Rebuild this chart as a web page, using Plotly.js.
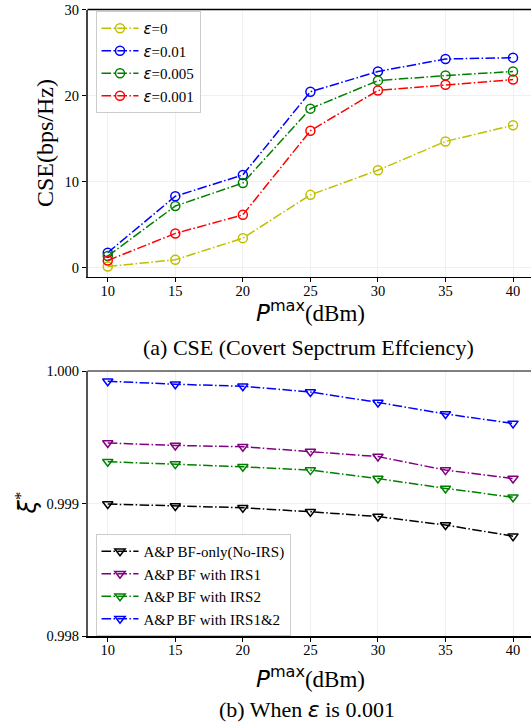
<!DOCTYPE html>
<html>
<head>
<meta charset="utf-8">
<script src="https://cdn.plot.ly/plotly-3.0.1.min.js"></script>
<style>html,body{margin:0;padding:0;background:#fff;}#chart{width:531px;height:724px;}</style>
</head>
<body>
<div id="chart"></div>
<script>
// ---------- data ----------
const pmax = [10, 15, 20, 25, 30, 35, 40];
const xTicks = [10, 15, 20, 25, 30, 35, 40];

// (a) CSE (bps/Hz)
const cseEps0     = [0.16, 0.94, 3.45, 8.48, 11.34, 14.68, 16.56];
const cseEps0010  = [1.77, 8.32, 10.79, 20.45, 22.80, 24.25, 24.41];
const cseEps0005  = [1.37, 7.18, 9.85, 18.49, 21.74, 22.33, 22.80];
const cseEps0001  = [0.86, 4.00, 6.16, 15.93, 20.60, 21.27, 21.86];
const cseLabels   = ['=0', '=0.01', '=0.005', '=0.001'];
const cseTicks    = [0, 10, 20, 30];

// (b) xi* when eps = 0.001
const xiBFonly  = [0.998997, 0.998982, 0.998969, 0.998939, 0.998903, 0.998839, 0.998755];
const xiIRS1    = [0.999457, 0.999439, 0.999429, 0.999393, 0.999355, 0.999253, 0.999189];
const xiIRS2    = [0.999316, 0.999298, 0.999278, 0.999253, 0.999189, 0.999115, 0.999048];
const xiIRS12   = [0.999923, 0.999900, 0.999885, 0.999842, 0.999763, 0.999676, 0.999605];
const xiLabels  = ['A&amp;P BF-only(No-IRS)', 'A&amp;P BF with IRS1', 'A&amp;P BF with IRS2', 'A&amp;P BF with IRS1&amp;2'];
const xiTicks   = [0.998, 0.999, 1.000];

// ---------- styles ----------
const W = 531, H = 724;
const serif = 'Liberation Serif, Times New Roman, serif';
const dash = '9.6px,2.4px,1.5px,2.4px';
const eps = '<i><span style="font-family:DejaVu Sans">ε</span></i>';
const pmaxTitle = '<i><span style="font-family:DejaVu Sans">P</span></i><sup><span style="font-family:DejaVu Sans">max</span></sup>(dBm)';

function px(x) { return x / W; }
function py(y) { return 1 - y / H; }

function cseTrace(y, color, label) {
  return {
    x: pmax, y: y, type: 'scatter', mode: 'lines+markers',
    name: eps + label, xaxis: 'x', yaxis: 'y', legend: 'legend',
    line: {color: color, width: 1.5, dash: dash},
    marker: {symbol: 'circle-open', size: 9, color: color, line: {color: color, width: 1.5}}
  };
}
function xiTrace(y, color, label) {
  return {
    x: pmax, y: y, type: 'scatter', mode: 'lines+markers',
    name: label, xaxis: 'x2', yaxis: 'y2', legend: 'legend2',
    line: {color: color, width: 1.5, dash: dash},
    marker: {symbol: 'triangle-down-open', size: 9, color: color, line: {color: color, width: 1.5}}
  };
}

const data = [
  cseTrace(cseEps0,    '#bfbf00', cseLabels[0]),
  cseTrace(cseEps0010, '#0000ff', cseLabels[1]),
  cseTrace(cseEps0005, '#008000', cseLabels[2]),
  cseTrace(cseEps0001, '#ff0000', cseLabels[3]),
  xiTrace(xiBFonly, '#000000', xiLabels[0]),
  xiTrace(xiIRS1,   '#800080', xiLabels[1]),
  xiTrace(xiIRS2,   '#008000', xiLabels[2]),
  xiTrace(xiIRS12,  '#0000ff', xiLabels[3])
];

const tickFont = {family: serif, size: 14.5, color: '#000'};
const xRange = [8.5, 41.33];
const xDomain = [px(87.5), 1];

function xAxis(anchor) {
  return {
    domain: xDomain, range: xRange, anchor: anchor,
    tickmode: 'array', tickvals: xTicks, ticktext: xTicks.map(String),
    ticks: 'outside', ticklen: 4, tickwidth: 1, tickcolor: '#000',
    ticklabelposition: 'outside', ticklabelstandoff: -4,
    showline: true, linecolor: '#000', linewidth: 1.3, mirror: false,
    showgrid: true, gridcolor: '#ececec', gridwidth: 0.8, zeroline: false,
    tickfont: tickFont, automargin: false, fixedrange: true
  };
}

function legendBox(topPx) {
  return {
    x: px(95.5), y: py(topPx), xanchor: 'left', yanchor: 'top',
    bgcolor: 'rgba(255,255,255,0.85)', bordercolor: '#cccccc', borderwidth: 1,
    font: {family: serif, size: 15, color: '#000'},
    tracegroupgap: 0, itemwidth: 37
  };
}

const layout = {
  width: W, height: H,
  margin: {l: 0, r: 0, t: 0, b: 0, pad: 0},
  paper_bgcolor: '#fff', plot_bgcolor: '#fff',
  showlegend: true,
  xaxis: xAxis('y'),
  xaxis2: xAxis('y2'),
  yaxis: {
    domain: [py(277), py(9.5)], range: [-1.06, 30], anchor: 'x',
    tickmode: 'array', tickvals: cseTicks, ticktext: cseTicks.map(String),
    ticks: 'outside', ticklen: 4, tickwidth: 1, tickcolor: '#000',
    showline: true, linecolor: '#444', linewidth: 1.5,
    showgrid: true, gridcolor: '#ececec', gridwidth: 0.8, zeroline: false,
    tickfont: tickFont, automargin: false, fixedrange: true
  },
  yaxis2: {
    domain: [py(636.3), py(371)], range: [0.998, 1.000], anchor: 'x2',
    tickmode: 'array', tickvals: xiTicks, ticktext: xiTicks.map(v => v.toFixed(3)),
    ticks: 'outside', ticklen: 4, tickwidth: 1, tickcolor: '#000',
    showline: true, linecolor: '#555', linewidth: 1.5,
    showgrid: true, gridcolor: '#ececec', gridwidth: 0.8, zeroline: false,
    tickfont: tickFont, automargin: false, fixedrange: true
  },
  legend: legendBox(11),
  legend2: legendBox(534),
  shapes: [
    {type: 'line', xref: 'paper', yref: 'paper', x0: px(87.5), x1: 1, y0: py(9.5), y1: py(9.5),
     line: {color: '#000', width: 1.3}},
    {type: 'line', xref: 'paper', yref: 'paper', x0: px(87.5), x1: 1, y0: py(371), y1: py(371),
     line: {color: '#555', width: 1.3}}
  ],
  annotations: [
    {xref: 'paper', yref: 'paper', x: px(45), y: py(143), textangle: -90, showarrow: false,
     xanchor: 'center', yanchor: 'middle', text: 'CSE(bps/Hz)',
     font: {family: serif, size: 24, color: '#000'}},
    {xref: 'paper', yref: 'paper', x: px(310), y: py(311), showarrow: false,
     xanchor: 'center', yanchor: 'middle', text: pmaxTitle,
     font: {family: serif, size: 23, color: '#000'}},
    {xref: 'paper', yref: 'paper', x: px(308), y: py(347), showarrow: false,
     xanchor: 'center', yanchor: 'middle', text: '(a) CSE (Covert Sepctrum Effciency)',
     font: {family: serif, size: 22, color: '#000'}},
    {xref: 'paper', yref: 'paper', x: px(26), y: py(503.5), textangle: -90, showarrow: false,
     xanchor: 'center', yanchor: 'middle',
     text: '<i><span style="font-family:DejaVu Sans">ξ</span></i><sup>*</sup>',
     font: {family: serif, size: 24, color: '#000'}},
    {xref: 'paper', yref: 'paper', x: px(310), y: py(677), showarrow: false,
     xanchor: 'center', yanchor: 'middle', text: pmaxTitle,
     font: {family: serif, size: 23, color: '#000'}},
    {xref: 'paper', yref: 'paper', x: px(307), y: py(709), showarrow: false,
     xanchor: 'center', yanchor: 'middle',
     text: '(b) When ' + eps + ' is 0.001',
     font: {family: serif, size: 22, color: '#000'}}
  ]
};

Plotly.newPlot('chart', data, layout, {staticPlot: true, displayModeBar: false});
</script>
</body>
</html>
